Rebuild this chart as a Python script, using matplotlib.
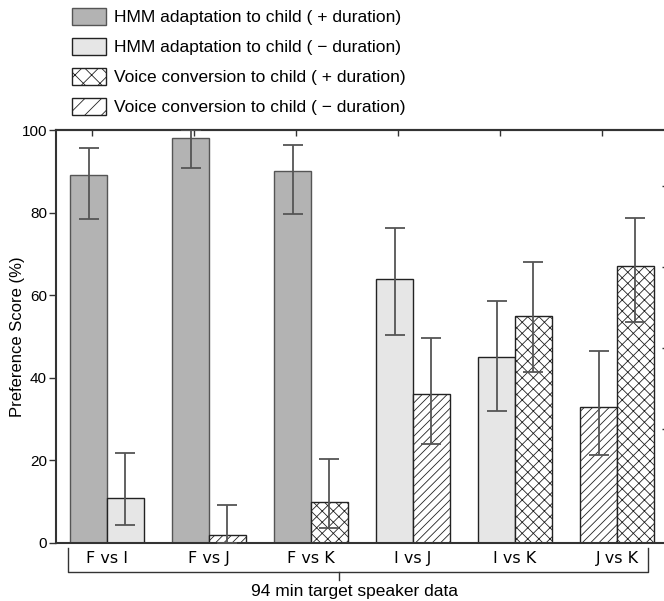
import matplotlib
matplotlib.use('Agg')
from matplotlib import pyplot as plt
from matplotlib.patches import Patch
import matplotlib.transforms as mtransforms
import numpy as np

# data
groups = ['F vs I', 'F vs J', 'F vs K', 'I vs J', 'I vs K', 'J vs K']

left_kind = ['hmm_dur', 'hmm_dur', 'hmm_dur', 'hmm_nodur', 'hmm_nodur', 'vc_nodur']
left_score = [89.0, 98.0, 90.0, 64.0, 45.0, 33.0]
left_lo = [78.4, 90.9, 79.6, 50.4, 32.0, 21.2]
left_hi = [95.7, 100.0, 96.3, 76.2, 58.7, 46.6]

right_kind = ['hmm_nodur', 'vc_nodur', 'vc_dur', 'vc_nodur', 'vc_dur', 'vc_dur']
right_score = [11.0, 2.0, 10.0, 36.0, 55.0, 67.0]
right_lo = [4.4, 0.0, 3.6, 23.9, 41.3, 53.4]
right_hi = [21.8, 9.2, 20.4, 49.7, 68.1, 78.8]

legend_kinds = ['hmm_dur', 'hmm_nodur', 'vc_dur', 'vc_nodur']
legend_labels = ['HMM adaptation to child ( + duration)',
                 'HMM adaptation to child ( \u2212 duration)',
                 'Voice conversion to child ( + duration)',
                 'Voice conversion to child ( \u2212 duration)']

yticks = [0, 20, 40, 60, 80, 100]
right_ticks = [86.5, 66.9, 47.3, 27.7]  # odd offset ticks on right spine
top_tick_offset = -0.15

# styles
style = {
    'hmm_dur': dict(facecolor='#b3b3b3', edgecolor='#555555', hatch=None),
    'hmm_nodur': dict(facecolor='#e6e6e6', edgecolor='#222222', hatch=None),
    'vc_dur': dict(facecolor='white', edgecolor='#222222', hatch='xxx'),
    'vc_nodur': dict(facecolor='white', edgecolor='#222222', hatch='////'),
}
legend_hatch = {'vc_dur': 'xx', 'vc_nodur': '//'}

plt.rcParams['font.family'] = ['Liberation Sans', 'DejaVu Sans']
plt.rcParams['hatch.linewidth'] = 0.6

fig = plt.figure(figsize=(6.64, 6.01), dpi=100)
ax = fig.add_axes([56 / 664, 58 / 601, 612 / 664, 413 / 601])

x = np.arange(len(groups))
w = 0.36
err_kw = dict(ecolor='#555555', elinewidth=1.3, capsize=7, capthick=1.3)

for xs, kinds, sc, lo, hi in [(x - w / 2, left_kind, left_score, left_lo, left_hi),
                              (x + w / 2, right_kind, right_score, right_lo, right_hi)]:
    for xi, k, s, l, h in zip(xs, kinds, sc, lo, hi):
        st = style[k]
        ax.bar(xi, s, width=w, facecolor=st['facecolor'], edgecolor=st['edgecolor'],
               hatch=st['hatch'], linewidth=1.0, zorder=2)
        ax.errorbar(xi, s, yerr=[[s - l], [h - s]], fmt='none', zorder=3, **err_kw)

ax.set_xlim(-0.5, 5.5)
ax.set_ylim(0, 100)
ax.set_yticks(yticks)
ax.set_xticks(x)
ax.set_xticklabels(groups, family='DejaVu Sans', fontsize=11.5)
ax.tick_params(axis='x', length=0, pad=6)
ax.tick_params(axis='y', direction='out', length=5, width=1, color='#333333',
               labelsize=11, pad=1.5)
ax.set_ylabel('Preference Score (%)', fontsize=12)
ax.yaxis.set_label_coords(-31 / 612, 0.5)
for sp in ax.spines.values():
    sp.set_linewidth(1.5)
    sp.set_color('#333333')

top = ax.secondary_xaxis('top')
top.set_xticks(x + top_tick_offset)
top.set_xticklabels([])
top.tick_params(direction='in', length=4, width=1, color='#333333')
top.spines['top'].set_linewidth(1.5)
top.spines['top'].set_color('#333333')

right = ax.secondary_yaxis('right')
right.set_yticks(right_ticks)
right.set_yticklabels([])
right.tick_params(direction='in', length=4, width=1, color='#333333')
right.spines['right'].set_linewidth(1.5)
right.spines['right'].set_color('#333333')

# bracket under the group labels
trans = mtransforms.blended_transform_factory(ax.transData, ax.transAxes)
bx0, bx1, bmid = -0.38, 5.30, 2.27
ax.plot([bx0, bx0, bx1, bx1], [-0.012, -0.070, -0.070, -0.012], color='#333333',
        lw=1.0, transform=trans, clip_on=False)
ax.plot([bmid, bmid], [-0.070, -0.090], color='#333333', lw=1.0,
        transform=trans, clip_on=False)
ax.text(2.43, -0.128, '94 min target speaker data', transform=trans,
        ha='center', va='baseline', fontsize=12.5)

handles = []
for k in legend_kinds:
    st = style[k]
    handles.append(Patch(facecolor=st['facecolor'], edgecolor=st['edgecolor'],
                         hatch=legend_hatch.get(k), linewidth=1.0))
fig.legend(handles, legend_labels, loc='upper left', bbox_to_anchor=(72 / 664, 1 - 8 / 601),
           frameon=False, fontsize=12.5, borderpad=0, borderaxespad=0,
           handlelength=34 / 17.4, handleheight=20 / 17.4, handletextpad=0.45,
           labelspacing=0.72)

fig.savefig('out.png', dpi=100)
